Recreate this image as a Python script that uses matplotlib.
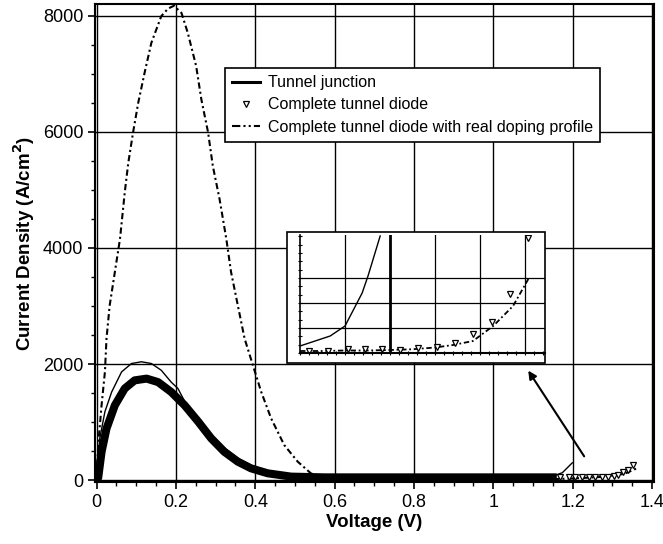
import matplotlib
matplotlib.use("Agg")
import matplotlib.pyplot as plt
from matplotlib.lines import Line2D
from matplotlib.patches import Rectangle

plt.rcParams["font.family"] = ["Liberation Sans", "DejaVu Sans"]

# complete tunnel diode (dense markers -> thick band)
v_diode = [0, 0.004, 0.0126, 0.025, 0.046, 0.071, 0.096, 0.126, 0.155, 0.188,
           0.222, 0.256, 0.289, 0.322, 0.356, 0.389, 0.431, 0.49, 0.574,
           0.8, 1.0, 1.16]
j_diode = [0, 40, 490, 890, 1290, 1580, 1720, 1750, 1690, 1520,
           1290, 1010, 720, 490, 320, 206, 120, 63, 50,
           50, 50, 50]

# tail of the diode curve, where single triangles are visible
v_tail = [1.169, 1.19, 1.206, 1.223, 1.240, 1.257, 1.273, 1.29, 1.303,
          1.315, 1.328, 1.340, 1.353]
j_tail = [50, 50, 50, 50, 50, 50, 57, 63, 80, 97, 137, 177, 263]

# tunnel junction (thin line)
v_junc = [0, 0.008, 0.021, 0.038, 0.063, 0.088, 0.113, 0.138, 0.163, 0.188,
          0.205, 0.222, 0.256, 0.289, 0.322, 0.356, 0.389, 0.431, 0.49,
          0.574, 0.8, 1.0, 1.15, 1.174, 1.199]
j_junc = [0, 720, 1180, 1520, 1866, 2010, 2040, 2010, 1894, 1690,
          1580, 1360, 1080, 790, 560, 380, 260, 160, 100,
          80, 70, 70, 70, 130, 300]

# complete tunnel diode with real doping profile
v_real = [0, 0.004, 0.0126, 0.021, 0.025, 0.033, 0.046, 0.059, 0.071, 0.080,
          0.092, 0.105, 0.121, 0.138, 0.163, 0.18, 0.195, 0.214, 0.23,
          0.251, 0.264, 0.281, 0.293, 0.31, 0.327, 0.339, 0.356, 0.373,
          0.394, 0.415, 0.44, 0.473, 0.507, 0.54, 0.574, 0.62, 0.7,
          0.9, 1.1, 1.2, 1.28, 1.33, 1.36]
j_real = [0, 606, 1293, 1866, 2440, 3010, 3583, 4155, 4956, 5470,
          5990, 6500, 7016, 7530, 7990, 8120, 8170, 8045, 7700,
          7130, 6560, 5990, 5410, 4840, 4155, 3583, 3010, 2440,
          1980, 1520, 1064, 606, 320, 120, 30, 10, 5,
          5, 10, 30, 60, 110, 200]

# inset (zoomed, arbitrary units)
in_v_junc = [0, 0.67, 1.0, 1.38, 1.51, 1.78]
in_j_junc = [0.28, 0.68, 1.08, 2.4, 3.08, 4.68]
in_v_real = [0, 0.5, 1.0, 1.5, 2.0, 2.5, 3.0, 3.4, 3.84, 4.29, 4.73, 5.07]
in_j_real = [0.08, 0.08, 0.1, 0.1, 0.12, 0.15, 0.22, 0.32, 0.48, 1.08, 1.88, 2.96]
in_v_tri = [0.19, 0.63, 1.07, 1.44, 1.81, 2.22, 2.63, 3.04, 3.44, 3.85, 4.26, 4.67, 5.07]
in_j_tri = [0.08, 0.08, 0.15, 0.15, 0.15, 0.12, 0.21, 0.25, 0.41, 0.75, 1.24, 2.35, 4.61]

dashdot = (0, (3, 1.5, 1, 1.5))

fig = plt.figure(figsize=(6.63, 5.44), dpi=100)
ax = fig.add_axes([95 / 663, 62 / 544, 559 / 663, 478 / 544])

ax.plot(v_real, j_real, color="black", lw=1.5, linestyle=dashdot, zorder=3)
ax.plot(v_junc, j_junc, color="black", lw=1.0, zorder=3)
ax.plot(v_diode, j_diode, color="black", lw=5.8, solid_capstyle="butt",
        solid_joinstyle="round", zorder=4)
ax.plot(v_tail, j_tail, linestyle="none", marker="v", markersize=5,
        markerfacecolor="white", markeredgecolor="black", markeredgewidth=0.9, zorder=5)

ax.annotate("", xy=(1.088, 1888), xytext=(1.229, 412),
            arrowprops=dict(arrowstyle="-|>", color="black", lw=1.5,
                            mutation_scale=12, shrinkA=0, shrinkB=0), zorder=6)

ax.set_xlim(-0.004, 1.405)
ax.set_ylim(-30, 8200)
ax.set_xticks([0, 0.2, 0.4, 0.6, 0.8, 1.0, 1.2, 1.4])
ax.set_xticklabels(["0", "0.2", "0.4", "0.6", "0.8", "1", "1.2", "1.4"])
ax.set_yticks([0, 2000, 4000, 6000, 8000])
ax.set_xticks([i * 0.05 for i in range(29)], minor=True)
ax.set_yticks([i * 500 for i in range(17)], minor=True)
ax.tick_params(which="major", direction="out", length=5, width=1.2, labelsize=13)
ax.tick_params(which="minor", direction="out", length=3, width=1.0)
ax.grid(True, which="major", color="black", lw=1.0, zorder=0)
for s in ax.spines.values():
    s.set_linewidth(1.5)

ax.set_xlabel("Voltage (V)", fontsize=13.5, fontweight="bold", labelpad=2)
ax.set_ylabel("Current Density (A/cm$^\\mathbf{2}$)", fontsize=13.5,
              fontweight="bold", labelpad=4)

handles = [
    Line2D([], [], color="black", lw=2.2),
    Line2D([], [], linestyle="none", marker="v", markersize=5,
           markerfacecolor="white", markeredgecolor="black", markeredgewidth=0.9),
    Line2D([], [], color="black", lw=1.5, linestyle=(0, (4, 1.5, 1, 1.5, 1, 1.5))),
]
labels = ["Tunnel junction", "Complete tunnel diode",
          "Complete tunnel diode with real doping profile"]
leg = ax.legend(handles, labels, loc="upper left", bbox_to_anchor=(0.233, 0.866),
                fontsize=11.5, frameon=True, fancybox=False, framealpha=1,
                edgecolor="black", handlelength=1.7, handletextpad=0.5,
                borderpad=0.45, labelspacing=0.45, borderaxespad=0)
leg.get_frame().set_linewidth(1.2)
leg.set_zorder(7)

# inset frame and axes
fig.patches.append(Rectangle((287 / 663, 181 / 544), 258 / 663, 131 / 544,
                             transform=fig.transFigure, facecolor="white",
                             edgecolor="black", lw=1.2, zorder=8))
ins = fig.add_axes([300 / 663, 191 / 544, 245 / 663, 118 / 544])
ins.set_zorder(9)
ins.patch.set_alpha(0)
ins.plot(in_v_junc, in_j_junc, color="black", lw=1.0)
ins.plot(in_v_real, in_j_real, color="black", lw=1.3, linestyle=dashdot)
ins.plot(in_v_tri, in_j_tri, linestyle="none", marker="v", markersize=5,
         markerfacecolor="white", markeredgecolor="black", markeredgewidth=0.9)
ins.set_xlim(0, 5.44)
ins.set_ylim(0, 4.72)
for x in [1, 3, 4, 5]:
    ins.axvline(x, color="black", lw=0.9, zorder=0)
ins.axvline(2, color="black", lw=2.0, zorder=0)
for y in [1, 2, 3]:
    ins.axhline(y, color="black", lw=0.9, zorder=0)
ins.set_xticks([i * 0.2 for i in range(28)])
ins.set_yticks([i / 3 for i in range(15)])
ins.tick_params(direction="inout", length=3, width=0.8,
                labelbottom=False, labelleft=False)
ins.spines["top"].set_visible(False)
ins.spines["right"].set_visible(False)
ins.spines["left"].set_linewidth(1.2)
ins.spines["bottom"].set_linewidth(1.5)

fig.savefig("out.png", dpi=100, facecolor="white")
